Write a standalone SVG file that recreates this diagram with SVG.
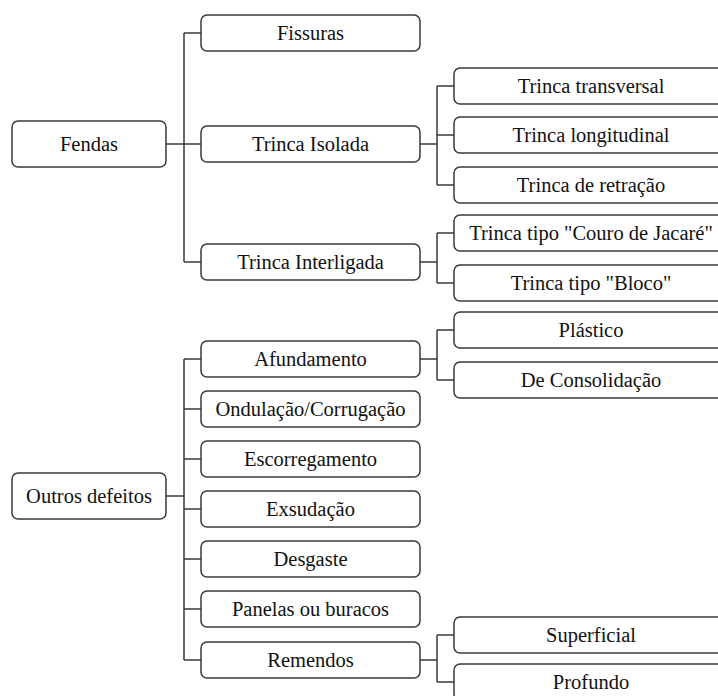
<svg xmlns="http://www.w3.org/2000/svg" width="718" height="696" viewBox="0 0 718 696">
  <style>
    .box { fill: #ffffff; stroke: #3a3a3a; stroke-width: 1.5; }
    .wire { fill: none; stroke: #3a3a3a; stroke-width: 1.5; }
    text { font-family: Liberation Serif, Times New Roman, Times, serif; font-size: 20.5px; fill: #111111; text-anchor: middle; }
  </style>
  <rect width="718" height="696" fill="#ffffff"/>

  <!-- connectors -->
  <g id="connectors" class="wire">
    <!-- Fendas -->
    <path d="M166 144 H201 M184 33 V262 M184 33 H201 M184 262 H201"/>
    <!-- Trinca Isolada -->
    <path d="M420 144 H437 M437 86 V185 M437 86 H454 M437 135 H454 M437 185 H454"/>
    <!-- Trinca Interligada -->
    <path d="M420 262 H437 M437 233 V283 M437 233 H454 M437 283 H454"/>
    <!-- Outros defeitos -->
    <path d="M166 496 H184 M184 359 V660 M184 359 H201 M184 409 H201 M184 459 H201 M184 509 H201 M184 559 H201 M184 609 H201 M184 660 H201"/>
    <!-- Afundamento -->
    <path d="M420 359 H437 M437 330 V380 M437 330 H454 M437 380 H454"/>
    <!-- Remendos -->
    <path d="M420 660 H437 M437 635 V682 M437 635 H454 M437 682 H454"/>
  </g>

  <!-- root nodes -->
  <g id="fendas"><rect class="box" x="12" y="121" width="154" height="46" rx="6"/><text font-family="Liberation Serif" x="89" y="151">Fendas</text></g>
  <g id="outros-defeitos"><rect class="box" x="12" y="473" width="154" height="46" rx="6"/><text font-family="Liberation Serif" x="89" y="503">Outros defeitos</text></g>

  <!-- second level -->
  <g id="fissuras"><rect class="box" x="201" y="15" width="219" height="36" rx="6"/><text font-family="Liberation Serif" x="310.5" y="40">Fissuras</text></g>
  <g id="trinca-isolada"><rect class="box" x="201" y="126" width="219" height="36" rx="6"/><text font-family="Liberation Serif" x="310.5" y="151">Trinca Isolada</text></g>
  <g id="trinca-interligada"><rect class="box" x="201" y="244" width="219" height="36" rx="6"/><text font-family="Liberation Serif" x="310.5" y="269">Trinca Interligada</text></g>
  <g id="afundamento"><rect class="box" x="201" y="341" width="219" height="36" rx="6"/><text font-family="Liberation Serif" x="310.5" y="366">Afundamento</text></g>
  <g id="ondulacao"><rect class="box" x="201" y="391" width="219" height="36" rx="6"/><text font-family="Liberation Serif" x="310.5" y="416">Ondulação/Corrugação</text></g>
  <g id="escorregamento"><rect class="box" x="201" y="441" width="219" height="36" rx="6"/><text font-family="Liberation Serif" x="310.5" y="466">Escorregamento</text></g>
  <g id="exsudacao"><rect class="box" x="201" y="491" width="219" height="36" rx="6"/><text font-family="Liberation Serif" x="310.5" y="516">Exsudação</text></g>
  <g id="desgaste"><rect class="box" x="201" y="541" width="219" height="36" rx="6"/><text font-family="Liberation Serif" x="310.5" y="566">Desgaste</text></g>
  <g id="panelas"><rect class="box" x="201" y="591" width="219" height="36" rx="6"/><text font-family="Liberation Serif" x="310.5" y="616">Panelas ou buracos</text></g>
  <g id="remendos"><rect class="box" x="201" y="642" width="219" height="36" rx="6"/><text font-family="Liberation Serif" x="310.5" y="667">Remendos</text></g>

  <!-- third level (boxes run past the right edge) -->
  <g id="trinca-transversal"><rect class="box" x="454" y="68" width="280" height="36" rx="6"/><text font-family="Liberation Serif" x="591" y="93">Trinca transversal</text></g>
  <g id="trinca-longitudinal"><rect class="box" x="454" y="117" width="280" height="36" rx="6"/><text font-family="Liberation Serif" x="591" y="142">Trinca longitudinal</text></g>
  <g id="trinca-retracao"><rect class="box" x="454" y="167" width="280" height="36" rx="6"/><text font-family="Liberation Serif" x="591" y="192">Trinca de retração</text></g>
  <g id="trinca-couro"><rect class="box" x="454" y="215" width="280" height="36" rx="6"/><text font-family="Liberation Serif" x="591" y="240">Trinca tipo "Couro de Jacaré"</text></g>
  <g id="trinca-bloco"><rect class="box" x="454" y="265" width="280" height="36" rx="6"/><text font-family="Liberation Serif" x="591" y="290">Trinca tipo "Bloco"</text></g>
  <g id="plastico"><rect class="box" x="454" y="312" width="280" height="36" rx="6"/><text font-family="Liberation Serif" x="591" y="337">Plástico</text></g>
  <g id="consolidacao"><rect class="box" x="454" y="362" width="280" height="36" rx="6"/><text font-family="Liberation Serif" x="591" y="387">De Consolidação</text></g>
  <g id="superficial"><rect class="box" x="454" y="617" width="280" height="36" rx="6"/><text font-family="Liberation Serif" x="591" y="642">Superficial</text></g>
  <g id="profundo"><rect class="box" x="454" y="664" width="280" height="36" rx="6"/><text font-family="Liberation Serif" x="591" y="689">Profundo</text></g>
</svg>
